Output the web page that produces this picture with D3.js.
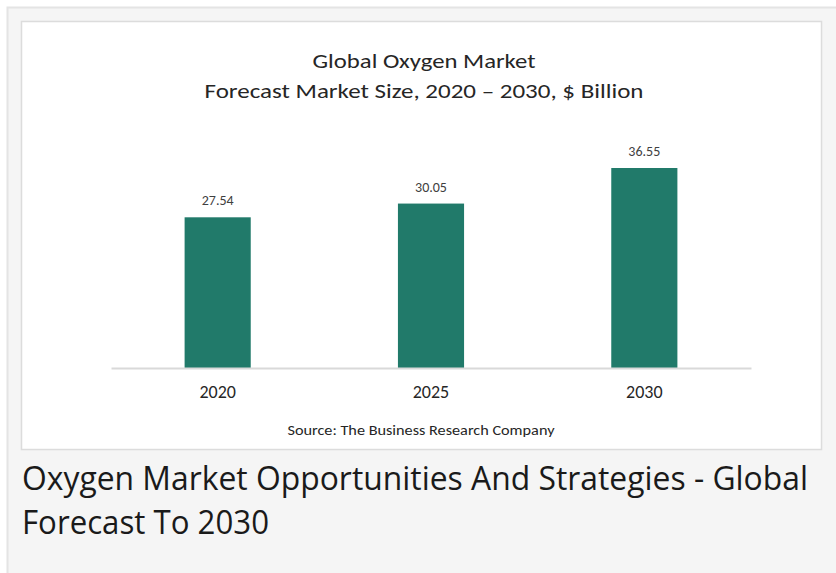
<!DOCTYPE html>
<html>
<head>
<meta charset="utf-8">
<script src="https://cdn.jsdelivr.net/npm/d3@7"></script>
<style>
  html, body { margin: 0; padding: 0; background: #ffffff; }
  svg { display: block; }
</style>
</head>
<body>
<svg id="chart" width="836" height="573"></svg>
<script>
// ---- data ----
const categories = ["2020", "2025", "2030"];
const values = [27.54, 30.05, 36.55];
const valueLabels = ["27.54", "30.05", "36.55"];
const titleLines = ["Global Oxygen Market", "Forecast Market Size, 2020 \u2013 2030, $ Billion"];
const sourceText = "Source: The Business Research Company";
const captionLines = ["Oxygen Market Opportunities And Strategies - Global", "Forecast To 2030"];

const svg = d3.select("#chart");
const chartFont = "Carlito, Calibri, Lato, 'Liberation Sans', sans-serif";

// outer panel
svg.append("rect").attr("x", 7.5).attr("y", 7.5).attr("width", 840).attr("height", 580)
  .attr("fill", "#f5f5f5").attr("stroke", "#e4e4e4").attr("stroke-width", 2);

// inner chart image
svg.append("rect").attr("x", 21.5).attr("y", 21.5).attr("width", 800).attr("height", 428)
  .attr("fill", "#ffffff").attr("stroke", "#dcdcdc").attr("stroke-width", 1.5);

// title
const titleY = [68, 98];
const titleW = [223, 439];
titleLines.forEach((t, i) => {
  svg.append("text").attr("x", 424).attr("y", titleY[i])
    .attr("text-anchor", "middle")
    .attr("font-family", chartFont).attr("font-size", 20)
    .attr("fill", "#262626")
    .attr("textLength", titleW[i]).attr("lengthAdjust", "spacingAndGlyphs")
    .text(t);
});

// scales
const x = d3.scaleBand().domain(categories).range([111, 751])
  .paddingInner(0.69).paddingOuter(0.345);
const y = d3.scaleLinear().domain([0, d3.max(values)]).range([368, 168]);

// bars
svg.append("g").selectAll("rect").data(values).join("rect")
  .attr("x", (d, i) => x(categories[i]))
  .attr("y", d => y(d))
  .attr("width", x.bandwidth())
  .attr("height", d => y(0) - y(d))
  .attr("fill", "#217a6a");

// value labels
svg.append("g").selectAll("text").data(values).join("text")
  .attr("x", (d, i) => x(categories[i]) + x.bandwidth() / 2)
  .attr("y", d => y(d) - 12)
  .attr("text-anchor", "middle")
  .attr("font-family", chartFont).attr("font-size", 14)
  .attr("fill", "#404040")
  .text((d, i) => valueLabels[i]);

// x axis
const axis = svg.append("g").attr("transform", `translate(0,${y(0)})`)
  .call(d3.axisBottom(x).tickSize(0).tickSizeOuter(0).tickPadding(0));
axis.select(".domain").attr("stroke", "#d9d9d9").attr("stroke-width", 2);
axis.selectAll(".tick text")
  .attr("y", 30).attr("dy", 0)
  .attr("font-family", chartFont).attr("font-size", 18)
  .attr("fill", "#262626");

// source
svg.append("text").attr("x", 421).attr("y", 435)
  .attr("text-anchor", "middle")
  .attr("font-family", chartFont).attr("font-size", 14)
  .attr("fill", "#262626")
  .attr("textLength", 267).attr("lengthAdjust", "spacingAndGlyphs")
  .text(sourceText);

// caption
const capY = [490, 534];
const capW = [786, 247];
captionLines.forEach((t, i) => {
  svg.append("text").attr("x", 22).attr("y", capY[i])
    .attr("font-family", "'Open Sans', 'Noto Sans', sans-serif").attr("font-size", 32)
    .attr("fill", "#1a1a1a")
    .attr("textLength", capW[i]).attr("lengthAdjust", "spacingAndGlyphs")
    .text(t);
});
</script>
</body>
</html>
